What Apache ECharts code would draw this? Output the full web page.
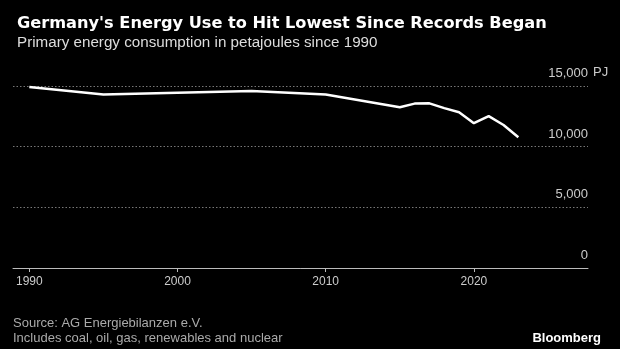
<!DOCTYPE html>
<html>
<head>
<meta charset="utf-8">
<script src="https://cdn.jsdelivr.net/npm/echarts@6/dist/echarts.min.js"></script>
<style>
html,body{margin:0;padding:0;background:#000;}
#c{width:620px;height:349px;}
</style>
</head>
<body>
<div id="c"></div>
<script>
var years = [1990, 1995, 2000, 2005, 2010, 2015, 2016, 2017, 2018, 2019, 2020, 2021, 2022, 2023];
var consumption = [14920, 14300, 14440, 14580, 14300, 13250, 13550, 13570, 13180, 12840, 11930, 12520, 11790, 10780];
var xTicks = [1990, 2000, 2010, 2020];
var yTicks = [0, 5000, 10000, 15000];

var chart = echarts.init(document.getElementById('c'), null, {renderer: 'canvas'});
var fontFam = 'Liberation Sans, Arial, sans-serif';
chart.setOption({
  backgroundColor: '#000',
  animation: false,
  title: [
    {text: "Germany's Energy Use to Hit Lowest Since Records Began", left: 12, top: 11,
     textStyle: {color: '#fff', fontSize: 16.2, fontWeight: 'bold', fontFamily: 'DejaVu Sans, sans-serif'}},
    {text: 'Primary energy consumption in petajoules since 1990', left: 12, top: 30,
     textStyle: {color: '#ddd', fontSize: 15.2, fontWeight: 'normal', fontFamily: fontFam}}
  ],
  grid: {left: 13, right: 32, top: 86, bottom: 81},
  xAxis: {
    type: 'value', min: 1988.9, max: 2027.7,
    axisLine: {show: true, lineStyle: {color: '#bbb', width: 1}},
    axisTick: {show: true, customValues: xTicks, length: 4, lineStyle: {color: '#bbb'}},
    axisLabel: {customValues: xTicks, color: '#ccc', fontSize: 12, fontFamily: fontFam, margin: 8,
      formatter: function (v) { return String(v); }},
    splitLine: {show: false}
  },
  yAxis: {
    type: 'value', position: 'right', min: 0, max: 15000, interval: 5000,
    axisLine: {show: false}, axisTick: {show: false},
    axisLabel: {inside: true, margin: 0, color: '#ccc', fontSize: 13, fontFamily: fontFam,
      verticalAlign: 'bottom', padding: [0, 0, 6, 0],
      formatter: function (v) { return v.toLocaleString('en-US'); }},
    splitLine: {show: true, lineStyle: {color: '#777', type: [1.5, 2], width: 1}}
  },
  graphic: [
    {type: 'text', left: 593, top: 66, style: {text: 'PJ', fill: '#ccc', font: '13px ' + fontFam}},
    {type: 'text', left: 13, top: 317, style: {text: 'Source: AG Energiebilanzen e.V.', fill: '#aaa', font: '13px ' + fontFam}},
    {type: 'text', left: 13, top: 332, style: {text: 'Includes coal, oil, gas, renewables and nuclear', fill: '#aaa', font: '13px ' + fontFam}},
    {type: 'text', right: 19, top: 332, style: {text: 'Bloomberg', fill: '#fff', font: 'bold 13px ' + fontFam}}
  ],
  series: [{
    type: 'line',
    data: years.map(function (y, i) { return [y, consumption[i]]; }),
    showSymbol: false,
    lineStyle: {color: '#fff', width: 2.5},
    z: 5
  }]
});
</script>
</body>
</html>
